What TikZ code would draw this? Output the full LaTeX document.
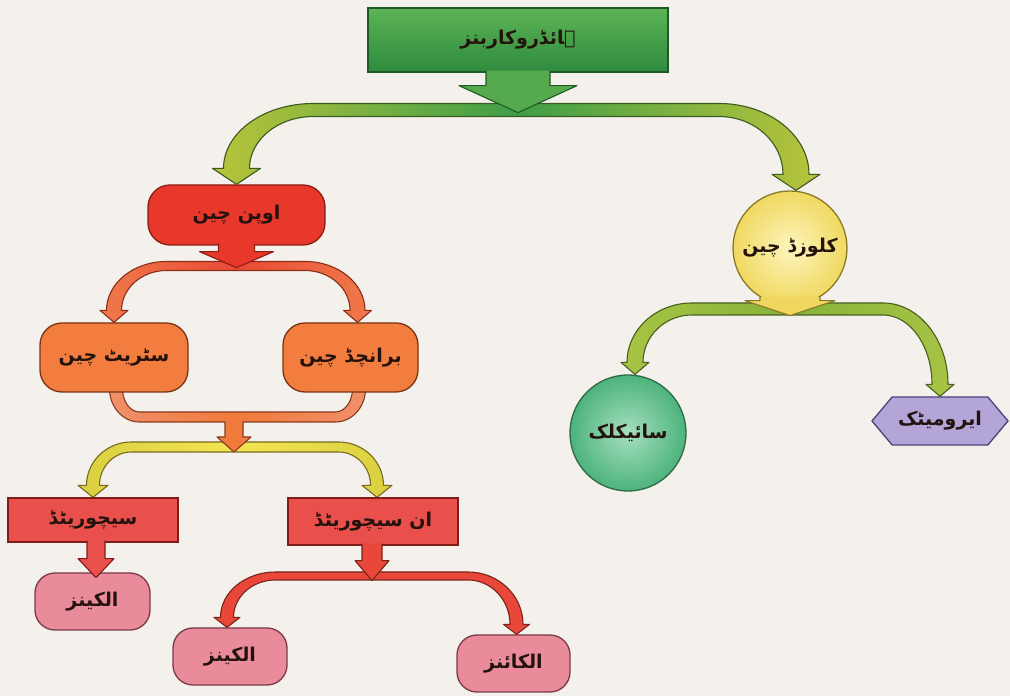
\documentclass[tikz,border=0pt]{standalone}
\usepackage{fontspec}
\newfontfamily\urdufont[Script=Arabic]{DejaVu Sans}
\TeXXeTstate=1
\usetikzlibrary{shapes.symbols,calc}
\pgfdeclarelayer{paper}
\pgfdeclarelayer{bands}
\pgfsetlayers{paper,bands,main}

\definecolor{bg}{HTML}{F4F1EC}
\definecolor{txt}{HTML}{24120C}
\definecolor{topA}{HTML}{5DB456}\definecolor{topB}{HTML}{2E8B3E}\definecolor{topO}{HTML}{1E5A28}
\definecolor{gfE}{HTML}{B9C43A}\definecolor{gfM}{HTML}{3E9E48}\definecolor{gfO}{HTML}{3A5A20}
\definecolor{gstub}{HTML}{55AA4E}
\definecolor{openR}{HTML}{E8372B}\definecolor{openO}{HTML}{8A1E14}
\definecolor{rfE}{HTML}{F07A4A}\definecolor{rfM}{HTML}{E84A35}\definecolor{rfO}{HTML}{8A2E1A}
\definecolor{orN}{HTML}{F27D3E}\definecolor{orO}{HTML}{7A3414}
\definecolor{ubE}{HTML}{F0906A}\definecolor{ubM}{HTML}{F07A3A}\definecolor{ubO}{HTML}{8A3A1E}
\definecolor{yfE}{HTML}{D8D040}\definecolor{yfM}{HTML}{F3E552}\definecolor{yfO}{HTML}{7A6A20}
\definecolor{satR}{HTML}{E9504C}\definecolor{satO}{HTML}{7E1E1A}
\definecolor{pinkN}{HTML}{E98B9B}\definecolor{pinkO}{HTML}{7A3A46}
\definecolor{ufR}{HTML}{E8473A}\definecolor{ufO}{HTML}{7A2418}
\definecolor{clI}{HTML}{FDF5BE}\definecolor{clE}{HTML}{F0D860}\definecolor{clO}{HTML}{8A7A28}
\definecolor{cfE}{HTML}{A8C444}\definecolor{cfM}{HTML}{86B23A}\definecolor{cfO}{HTML}{4A5E1E}
\definecolor{cyI}{HTML}{A6DFC0}\definecolor{cyE}{HTML}{4DB37C}\definecolor{cyO}{HTML}{2E6A44}
\definecolor{arN}{HTML}{B3A5D8}\definecolor{arO}{HTML}{4E4078}

\newcommand\urtxt[1]{{\urdufont\bfseries\fontsize{19pt}{22pt}\selectfont\beginR #1\endR}}

% fork band: #1 left tip coord, #2 right tip coord, #3 yc, #4 thickness, #5 leg width,
% #6 head half width, #7 head length, #8 corner radius, #9 style
\newcommand\bandfork[9]{%
 \path[#9] let \p1=(#1), \p2=(#2), \n1={#3}, \n2={#4/2}, \n3={#5/2}, \n4={#6}, \n5={#7}, \n6={#8}, \n7={max(#8-#5,5)} in
 ({\x1-\n3},{\y1+\n5})
 .. controls ({\x1-\n3},{\y1+\n5+0.552*(\n1+\n2-\y1-\n5)}) and ({\x1-\n3+0.448*\n6},{\n1+\n2}) .. ({\x1-\n3+\n6},{\n1+\n2})
 -- ({\x2+\n3-\n6},{\n1+\n2})
 .. controls ({\x2+\n3-0.448*\n6},{\n1+\n2}) and ({\x2+\n3},{\y2+\n5+0.552*(\n1+\n2-\y2-\n5)}) .. ({\x2+\n3},{\y2+\n5})
 -- ({\x2+\n4},{\y2+\n5}) -- (\x2,\y2) -- ({\x2-\n4},{\y2+\n5}) -- ({\x2-\n3},{\y2+\n5})
 .. controls ({\x2-\n3},{\y2+\n5+0.552*(\n1-\n2-\y2-\n5)}) and ({\x2-\n3-0.448*\n7},{\n1-\n2}) .. ({\x2-\n3-\n7},{\n1-\n2})
 -- ({\x1+\n3+\n7},{\n1-\n2})
 .. controls ({\x1+\n3+0.448*\n7},{\n1-\n2}) and ({\x1+\n3},{\y1+\n5+0.552*(\n1-\n2-\y1-\n5)}) .. ({\x1+\n3},{\y1+\n5})
 -- ({\x1+\n4},{\y1+\n5}) -- (\x1,\y1) -- ({\x1-\n4},{\y1+\n5}) -- cycle;}

% stub arrow: #1 start coord, #2 shaft half width, #3 shaft length, #4 head half width, #5 head length, #6 style
\newcommand\arrowstub[6]{%
 \path[#6] let \p1=(#1) in ({\x1-#2},{\y1+2}) -- ({\x1-#2},{\y1-#3}) -- ({\x1-#4},{\y1-#3})
 -- (\x1,{\y1-#3-#5}) -- ({\x1+#4},{\y1-#3}) -- ({\x1+#2},{\y1-#3}) -- ({\x1+#2},{\y1+2});}

\tikzset{
 base/.style={inner sep=0pt, line width=1.3pt, text=txt, font=\urdufont},
 pill/.style={base, rectangle, rounded corners=22pt},
 flat/.style={base, rectangle},
 bandline/.style={line width=1.1pt, line join=round},
}

\begin{document}
\begin{tikzpicture}[x=1pt,y=1pt]
\begin{pgfonlayer}{paper}
\fill[bg] (0,0) rectangle (1010,696);
\end{pgfonlayer}
\useasboundingbox (0,0) rectangle (1010,696);

% nodes
\node[flat, top color=topA, bottom color=topB, draw=topO, minimum width=300pt, minimum height=64pt] (top) at (518,656) {\urtxt{ہائڈروکاربنز}};
\node[pill, fill=openR, draw=openO, minimum width=177pt, minimum height=60pt] (open) at (236.5,481) {\urtxt{اوپن چین}};
\node[base, circle, inner color=clI, outer color=clE, draw=clO, minimum size=114pt] (closed) at (790,448) {\urtxt{کلوزڈ چین}};
\node[pill, fill=orN, draw=orO, minimum width=148pt, minimum height=69pt] (straight) at (114,338.5) {\urtxt{سٹریٹ چین}};
\node[pill, fill=orN, draw=orO, minimum width=135pt, minimum height=69pt] (branched) at (350.5,338.5) {\urtxt{برانچڈ چین}};
\node[flat, fill=satR, draw=satO, minimum width=170pt, minimum height=44pt] (sat) at (93,176) {\urtxt{سیچوریٹڈ}};
\node[flat, fill=satR, draw=satO, minimum width=170pt, minimum height=47pt] (unsat) at (373,174.5) {\urtxt{ان سیچوریٹڈ}};
\node[pill, rounded corners=20pt, fill=pinkN, draw=pinkO, minimum width=115pt, minimum height=57pt] (alkanes) at (92.5,94.5) {\urtxt{الکینز}};
\node[pill, rounded corners=20pt, fill=pinkN, draw=pinkO, minimum width=114pt, minimum height=57pt] (alkenes) at (230,39.5) {\urtxt{الکینز}};
\node[pill, rounded corners=20pt, fill=pinkN, draw=pinkO, minimum width=113pt, minimum height=57pt] (alkynes) at (513.5,32.5) {\urtxt{الکائنز}};
\node[base, circle, inner color=cyI, outer color=cyE, draw=cyO, minimum size=116pt] (cyclic) at (628,263) {\urtxt{سائیکلک}};
\node[base, signal, signal to=east and west, signal pointer angle=100, fill=arN, draw=arO, minimum width=136pt, minimum height=48pt] (aromatic) at (940,275) {\urtxt{ایرومیٹک}};

% bands behind nodes
\begin{pgfonlayer}{bands}
\bandfork{sat.north}{[xshift=4pt]unsat.north}{249}{10}{13}{15}{12}{45}{bandline, left color=yfE, right color=yfE, middle color=yfM, draw=yfO}
\path[bandline, left color=ubE, right color=ubE, middle color=ubM, draw=ubO]
 let \p1=([xshift=2pt]straight.south), \p2=([xshift=8.5pt]branched.south) in
 ({\x1-6.5},{\y1+4}) .. controls ({\x1-6.5},{\y1+4-0.552*(\y1+4-274)}) and ({\x1-6.5+0.448*30},274) .. ({\x1-6.5+30},274)
 -- (225,274) -- (225,259) -- (217,259) -- (234,244) -- (251,259) -- (243,259) -- (243,274)
 -- ({\x2+6.5-30},274) .. controls ({\x2+6.5-0.448*30},274) and ({\x2+6.5},{\y2+4-0.552*(\y2+4-274)}) .. ({\x2+6.5},{\y2+4})
 -- ({\x2-6.5},{\y2+4}) .. controls ({\x2-6.5},{\y2+4-0.552*(\y2+4-284)}) and ({\x2-6.5-0.448*17},284) .. ({\x2-6.5-17},284)
 -- ({\x1+6.5+17},284) .. controls ({\x1+6.5+0.448*17},284) and ({\x1+6.5},{\y1+4-0.552*(\y1+4-284)}) .. ({\x1+6.5},{\y1+4}) -- cycle;
\end{pgfonlayer}

% forks and stubs on top
\bandfork{open.north}{[xshift=6pt]closed.north}{586}{13}{26}{24}{16}{90}{bandline, left color=gfE, right color=gfE, middle color=gfM, draw=gfO}
\arrowstub{top.south}{32}{13}{59}{27}{bandline, fill=gstub, draw=topO}

\bandfork{straight.north}{[xshift=7pt]branched.north}{430}{9}{15}{14}{12}{60}{bandline, left color=rfE, right color=rfE, middle color=rfM, draw=rfO}
\arrowstub{open.south}{18}{6}{37}{16}{bandline, fill=openR, draw=openO}

\bandfork{[xshift=7pt]cyclic.north}{aromatic.north}{387}{12}{16}{14}{12}{65}{bandline, left color=cfE, right color=cfE, middle color=cfM, draw=cfO}
\arrowstub{[yshift=6.5pt]closed.south}{30}{1.5}{45}{15}{bandline, fill=clE, draw=clO}

\bandfork{[xshift=-3pt]alkenes.north}{[xshift=3pt]alkynes.north}{120}{8}{13}{13}{10}{55}{bandline, fill=ufR, draw=ufO}
\arrowstub{[xshift=-1pt]unsat.south}{10}{15}{17}{20}{bandline, fill=ufR, draw=ufO}

\arrowstub{[xshift=3pt]sat.south}{9}{16}{18}{19}{bandline, fill=satR, draw=satO}
\end{tikzpicture}
\end{document}
